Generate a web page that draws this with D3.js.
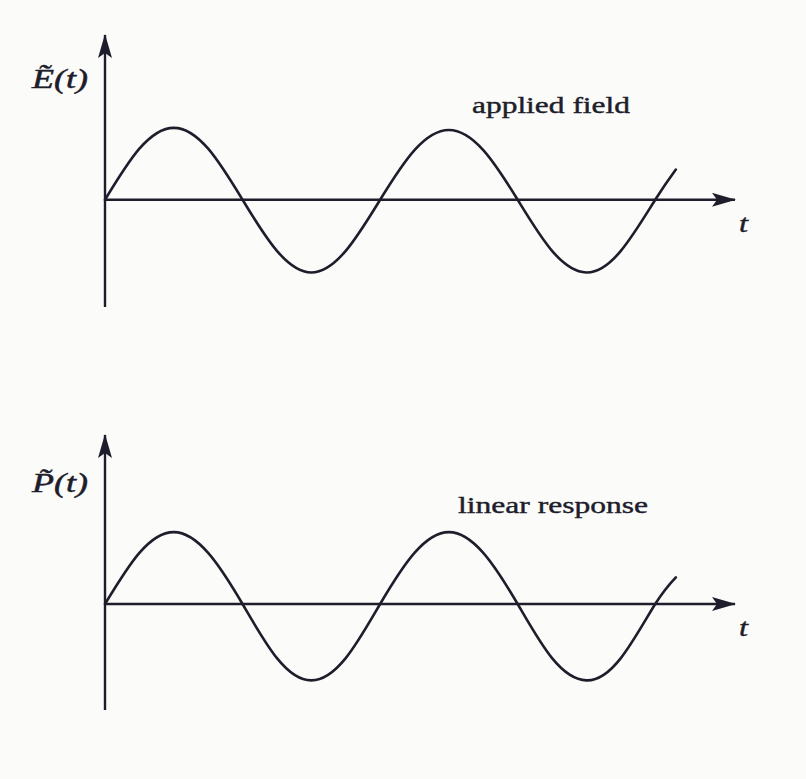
<!DOCTYPE html>
<html><head><meta charset="utf-8">
<script src="https://cdn.jsdelivr.net/npm/d3@7"></script>
<style>html,body{margin:0;padding:0;background:#fbfbf9;}svg{display:block;}</style>
</head><body>
<svg id="chart" width="806" height="779"></svg>
<script>
// ---- data (t in quarter periods, amplitude in units) ----
const tSamples       = [0, 0.5, 1, 1.5, 2, 2.5, 3, 3.5, 4, 4.5, 5, 5.5, 6, 6.5, 7, 7.5, 8, 8.3];
const fieldValues    = [0, 0.71, 1.0, 0.71, 0, -0.71, -1.01, -0.71, 0, 0.69, 0.97, 0.69, 0, -0.71, -1.01, -0.71, 0, 0.42];
const responseValues = [0, 0.69, 0.97, 0.69, 0, -0.73, -1.03, -0.73, 0, 0.69, 0.97, 0.69, 0, -0.73, -1.03, -0.73, 0, 0.36];
const tAxisExtent    = [0, 9.16];
const fieldAxisExtent    = [-1.49, 2.29];
const responseAxisExtent = [-1.43, 2.28];
const axisLabels   = ["E\u0303", "P\u0303"];
const curveLabels  = ["applied field", "linear response"];
const timeLabel    = "t";

// ---- layout ----
const svg = d3.select("#chart");
const ink = "#1d1d2b";
const x = d3.scaleLinear().domain(tAxisExtent).range([105, 735]);

const panels = [
  { values: fieldValues,    ext: fieldAxisExtent,    yRange: [307, 35],  label: axisLabels[0], curveLabel: curveLabels[0] },
  { values: responseValues, ext: responseAxisExtent, yRange: [710, 435], label: axisLabels[1], curveLabel: curveLabels[1] }
];

const defs = svg.append("defs");
defs.append("marker")
  .attr("id", "arrow")
  .attr("viewBox", "0 0 24 14")
  .attr("refX", 23).attr("refY", 7)
  .attr("markerWidth", 24).attr("markerHeight", 14)
  .attr("markerUnits", "userSpaceOnUse")
  .attr("orient", "auto")
  .append("path")
  .attr("d", "M0,0 L24,7 L0,14 L5,7 Z")
  .attr("fill", ink);

panels.forEach((p, i) => {
  const y = d3.scaleLinear().domain(p.ext).range(p.yRange);
  const g = svg.append("g");

  // horizontal (time) axis
  g.append("line")
    .attr("x1", x(tAxisExtent[0])).attr("x2", x(tAxisExtent[1]))
    .attr("y1", y(0)).attr("y2", y(0))
    .attr("stroke", ink).attr("stroke-width", 2.6)
    .attr("marker-end", "url(#arrow)");

  // vertical axis
  g.append("line")
    .attr("x1", x(0)).attr("x2", x(0))
    .attr("y1", y(p.ext[0])).attr("y2", y(p.ext[1]))
    .attr("stroke", ink).attr("stroke-width", 2.4)
    .attr("marker-end", "url(#arrow)");

  // curve
  const line = d3.line()
    .x((d, k) => x(tSamples[k]))
    .y(d => y(d))
    .curve(d3.curveNatural);
  g.append("path")
    .datum(p.values)
    .attr("d", line)
    .attr("fill", "none")
    .attr("stroke", ink)
    .attr("stroke-width", 2.6)
    .attr("stroke-linecap", "round");

  // axis label  X~(t)
  const y0 = y(0);
  g.append("text")
    .attr("x", 32).attr("y", y0 - 112)
    .attr("font-family", "'Liberation Serif', serif")
    .attr("font-style", "italic")
    .attr("font-size", 27)
    .attr("fill", ink)
    .attr("stroke", ink).attr("stroke-width", 0.5)
    .attr("textLength", 56).attr("lengthAdjust", "spacingAndGlyphs")
    .text(p.label + "(" + timeLabel + ")");

  // time label
  g.append("text")
    .attr("x", 739).attr("y", y0 + 32)
    .attr("font-family", "'Liberation Serif', serif")
    .attr("font-style", "italic")
    .attr("font-size", 25)
    .attr("fill", ink)
    .attr("stroke", ink).attr("stroke-width", 0.4)
    .attr("textLength", 9).attr("lengthAdjust", "spacingAndGlyphs")
    .text(timeLabel);

  // curve label
  const labelPos = i === 0 ? { x: 472, dy: -87, w: 158 } : { x: 458, dy: -91, w: 190 };
  g.append("text")
    .attr("x", labelPos.x).attr("y", y0 + labelPos.dy)
    .attr("font-family", "'Liberation Serif', serif")
    .attr("font-size", 23)
    .attr("fill", ink)
    .attr("stroke", ink).attr("stroke-width", 0.4)
    .attr("textLength", labelPos.w).attr("lengthAdjust", "spacingAndGlyphs")
    .text(p.curveLabel);
});
</script>
</body></html>
